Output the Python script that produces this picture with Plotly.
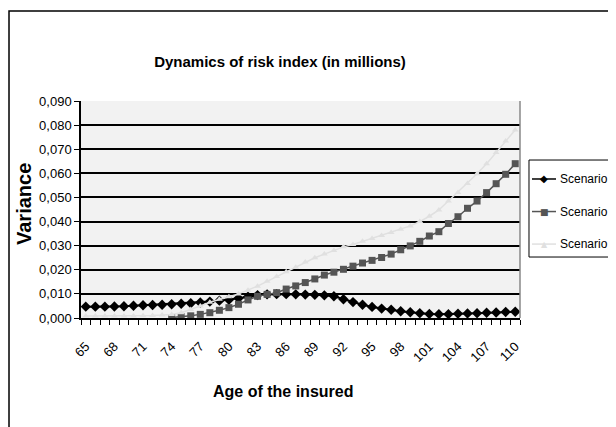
import plotly.graph_objects as go

# Age of the insured (categories)
ages = list(range(65, 111))

# Variance values
scenario_b = [0.0047, 0.0047, 0.0047, 0.0048, 0.0049, 0.0051, 0.0053, 0.0054, 0.0055, 0.0057,
              0.0059, 0.0061, 0.0064, 0.0068, 0.0072, 0.0076, 0.0082, 0.0088, 0.0095, 0.0098,
              0.0099, 0.0099, 0.0098, 0.0097, 0.0096, 0.0094, 0.0090, 0.0078, 0.0066, 0.0055,
              0.0046, 0.0039, 0.0034, 0.0028, 0.0024, 0.0020, 0.0017, 0.0016, 0.0016, 0.0018,
              0.0019, 0.0020, 0.0022, 0.0023, 0.0025, 0.0026]
scenario_c = [None, None, None, None, None, None, None, None, None, 0.0002,
              0.0005, 0.0009, 0.0015, 0.0022, 0.0032, 0.0043, 0.0057, 0.0075, 0.0090, 0.0098,
              0.0105, 0.0120, 0.0133, 0.0147, 0.0162, 0.0178, 0.0190, 0.0202, 0.0215, 0.0228,
              0.0239, 0.0251, 0.0265, 0.0283, 0.0299, 0.0318, 0.0340, 0.0358, 0.0392, 0.0420,
              0.0455, 0.0485, 0.0520, 0.0557, 0.0596, 0.0640]
scenario_a = [0.0008, 0.0008, 0.0008, 0.0008, 0.0008, 0.0008, 0.0009, 0.0010, 0.0012, 0.0015,
              0.0022, 0.0035, 0.0050, 0.0065, 0.0078, 0.0088, 0.0100, 0.0115, 0.0132, 0.0152,
              0.0172, 0.0192, 0.0210, 0.0232, 0.0250, 0.0265, 0.0280, 0.0295, 0.0305, 0.0318,
              0.0330, 0.0342, 0.0355, 0.0368, 0.0382, 0.0400, 0.0422, 0.0448, 0.0485, 0.0520,
              0.0558, 0.0598, 0.0640, 0.0686, 0.0734, 0.0780]

series_names = ["Scenario B", "Scenario C", "Scenario A"]
series_colors = ["black", "#555555", "#e0e0e0"]
series_glyphs = ["◆", "■", "▲"]

label_ages = ages[::3]
boundaries = [a - 0.5 for a in ages] + [ages[-1] + 0.5]

sans = "Liberation Sans, Arial, sans-serif"


def f(size, color="black"):
    return dict(family=sans, size=size, color=color)


fig = go.Figure()
fig.add_trace(go.Scatter(x=ages, y=scenario_b, name=series_names[0],
                         mode="lines+markers", line=dict(color=series_colors[0], width=2),
                         marker=dict(symbol="diamond", size=8, color=series_colors[0])))
fig.add_trace(go.Scatter(x=ages, y=scenario_c, name=series_names[1],
                         mode="lines+markers", line=dict(color=series_colors[1], width=1.5),
                         marker=dict(symbol="square", size=7, color=series_colors[1])))
fig.add_trace(go.Scatter(x=ages, y=scenario_a, name=series_names[2],
                         mode="lines+markers", line=dict(color=series_colors[2], width=1.5),
                         marker=dict(symbol="triangle-up", size=6, color=series_colors[2])))

# page body has an 8px margin, so the figure is drawn 8px in from the window corner
fig.update_layout(
    width=608, height=419,
    margin=dict(l=73, r=96, t=93, b=109, autoexpand=False),
    paper_bgcolor="white",
    plot_bgcolor="#f2f2f2",
    separators=",.",
    font=f(13),
    showlegend=False,
    title=dict(text="<b>Dynamics of risk index (in millions)</b>", x=272 / 608, xanchor="center",
               y=1 - 54 / 419, yanchor="middle", font=f(15)),
)

fig.update_xaxes(
    range=[64.5, 110.5], tickvals=label_ages, ticktext=[str(a) for a in label_ages],
    tickangle=-45, ticks="", showgrid=False, zeroline=False, automargin=False,
    showline=True, linecolor="black", linewidth=1.5,
    tickfont=f(13), ticklabelstandoff=14,
    minor=dict(tickvals=boundaries, ticks="outside", ticklen=5, tickcolor="black", showgrid=False),
)
fig.update_yaxes(
    range=[0, 0.09], dtick=0.01, tickformat=".3f",
    ticks="outside", ticklen=5, tickcolor="black",
    showgrid=True, gridcolor="black", gridwidth=1.5, zeroline=False, automargin=False,
    showline=True, linecolor="black", linewidth=1.5,
    tickfont=f(13),
)

# axis titles
fig.add_annotation(text="<b>Variance</b>", xref="paper", yref="paper", x=-0.13, y=0.525,
                   xanchor="center", yanchor="middle",
                   textangle=-90, showarrow=False, font=f(20))
fig.add_annotation(text="<b>Age of the insured</b>", xref="paper", yref="paper", x=0.46, y=-0.341,
                   xanchor="center", yanchor="middle", showarrow=False, font=f(16))

# gray right edge of the plot area
fig.add_shape(type="line", xref="paper", yref="paper", x0=1, x1=1, y0=0, y1=1,
              line=dict(color="#888888", width=1.5))
# outer chart border
fig.add_shape(type="rect", xref="paper", yref="paper", x0=-0.164, x1=1.3, y0=-0.6, y1=1.415,
              line=dict(color="black", width=1.5))

# legend box with keys, placed like the original (partly cut by the right edge)
fig.add_shape(type="rect", xref="paper", yref="paper", x0=1.0205, x1=1.25, y0=0.281, y1=0.728,
              line=dict(color="black", width=1), fillcolor="white")
for i, (name, col, glyph) in enumerate(zip(series_names, series_colors, series_glyphs)):
    yk = 0.6406 - i * 0.15
    fig.add_shape(type="line", xref="paper", yref="paper", x0=1.0273, x1=1.082, y0=yk, y1=yk,
                  line=dict(color=col, width=1.5))
    fig.add_annotation(text=glyph, xref="paper", yref="paper", x=1.0547, y=yk,
                       xanchor="center", yanchor="middle", showarrow=False,
                       font=dict(family="DejaVu Sans", size=[10, 9, 8][i], color=col))
    fig.add_annotation(text=name, xref="paper", yref="paper", x=1.0866, y=yk,
                       xanchor="left", yanchor="middle", showarrow=False, font=f(12))

fig.write_html("out.html")
